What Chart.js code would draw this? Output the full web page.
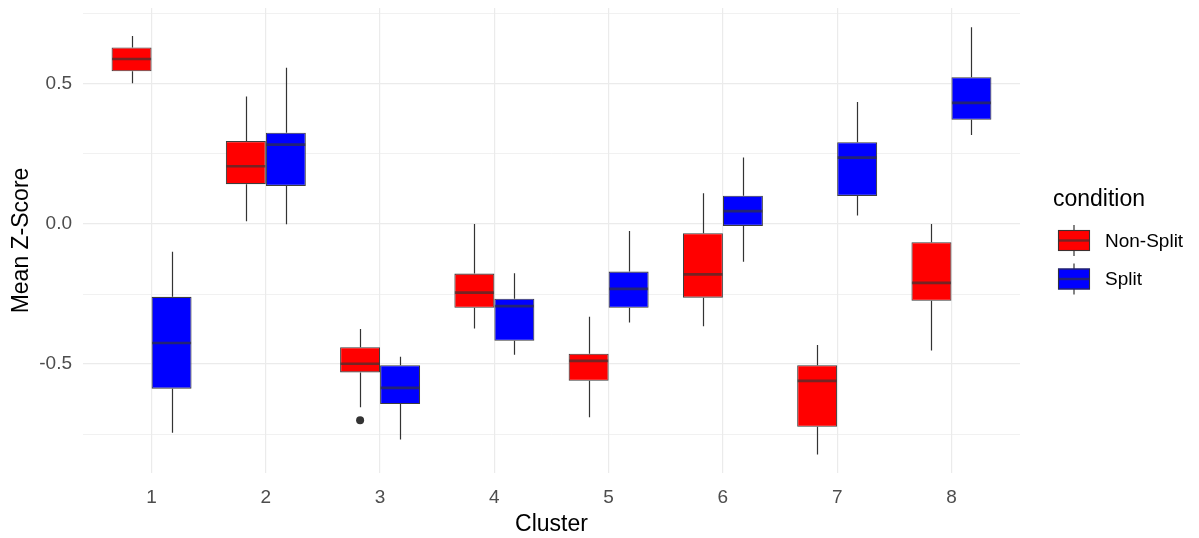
<!DOCTYPE html>
<html><head><meta charset="utf-8">
<script src="https://cdn.jsdelivr.net/npm/chart.js@4.4.1/dist/chart.umd.min.js"></script>
<style>html,body{margin:0;padding:0;background:#fff}#wrap{width:1199px;height:538px;position:relative}</style>
</head><body><div id="wrap"><canvas id="c" width="1199" height="538"></canvas></div>
<script>
// ---- data ----
const clusters = [1, 2, 3, 4, 5, 6, 7, 8];
const seriesNames = ['Non-Split', 'Split'];
const seriesColors = ['#ff0000', '#0000ff'];

const nonSplitMin    = [0.502, 0.010, -0.654, -0.373, -0.690, -0.365, -0.823, -0.452];
const nonSplitQ1     = [0.545, 0.142, -0.530, -0.299, -0.560, -0.263, -0.724, -0.274];
const nonSplitMedian = [0.589, 0.206, -0.499, -0.245, -0.489, -0.180, -0.560, -0.210];
const nonSplitQ3     = [0.630, 0.296, -0.440, -0.177, -0.463, -0.033, -0.504, -0.065];
const nonSplitMax    = [0.671, 0.455, -0.375, 0.000, -0.331, 0.110, -0.432, 0.000];

const splitMin    = [-0.745, -0.001, -0.769, -0.467, -0.352, -0.135, 0.030, 0.318];
const splitQ1     = [-0.588, 0.136, -0.643, -0.417, -0.299, -0.007, 0.100, 0.372];
const splitMedian = [-0.425, 0.283, -0.585, -0.293, -0.232, 0.046, 0.237, 0.432];
const splitQ3     = [-0.260, 0.326, -0.504, -0.267, -0.170, 0.101, 0.292, 0.524];
const splitMax    = [-0.099, 0.558, -0.474, -0.176, -0.025, 0.237, 0.435, 0.702];

const nonSplitOutlierCluster = [3];
const nonSplitOutlierValue = [-0.701];

const yMajorTicks = [-0.5, 0.0, 0.5];
const yMajorLabels = ['-0.5', '0.0', '0.5'];
const yMinorTicks = [-0.75, -0.25, 0.25, 0.75];
const xTickLabels = ['1', '2', '3', '4', '5', '6', '7', '8'];

// ---- build chart ----
const categoryPct = 0.7;
const dodge = categoryPct / 4;
const stats = [
  {min: nonSplitMin, med: nonSplitMedian, max: nonSplitMax},
  {min: splitMin, med: splitMedian, max: splitMax}
];
const boxData = (q1, q3) => clusters.map((c, i) => ({x: c, y: [q1[i], q3[i]]}));

const grey = '#333333';
const boxBorder = 'rgba(51,51,51,0.95)';
const medianColor = 'rgba(51,51,51,0.68)';
const tickFont = {family: '"Liberation Sans", Arial, sans-serif', size: 19};
const titleFont = {family: '"Liberation Sans", Arial, sans-serif', size: 23};

const boxParts = {
  id: 'boxParts',
  beforeDatasetsDraw(chart) {
    const ctx = chart.ctx, y = chart.scales.y;
    ctx.save();
    ctx.strokeStyle = grey; ctx.lineWidth = 1.2;
    stats.forEach((s, d) => {
      const meta = chart.getDatasetMeta(d);
      meta.data.forEach((el, i) => {
        const x = Math.round(el.x) + 0.5;
        const top = Math.min(el.y, el.base), bot = Math.max(el.y, el.base);
        ctx.beginPath();
        ctx.moveTo(x, y.getPixelForValue(s.max[i])); ctx.lineTo(x, top);
        ctx.moveTo(x, bot); ctx.lineTo(x, y.getPixelForValue(s.min[i]));
        ctx.stroke();
      });
    });
    ctx.restore();
  },
  afterDatasetsDraw(chart) {
    const ctx = chart.ctx, y = chart.scales.y;
    ctx.save();
    ctx.strokeStyle = medianColor; ctx.lineWidth = 2.7;
    stats.forEach((s, d) => {
      const meta = chart.getDatasetMeta(d);
      meta.data.forEach((el, i) => {
        const py = y.getPixelForValue(s.med[i]);
        ctx.beginPath();
        ctx.moveTo(el.x - el.width / 2 + 0.5, py); ctx.lineTo(el.x + el.width / 2 - 0.5, py);
        ctx.stroke();
      });
    });
    ctx.restore();
  },
  afterDraw(chart) {
    // legend
    const ctx = chart.ctx;
    ctx.save();
    ctx.fillStyle = '#000';
    ctx.font = `${titleFont.size}px ${titleFont.family}`;
    ctx.textBaseline = 'middle'; ctx.textAlign = 'left';
    ctx.fillText('condition', 1053, 200);
    const rows = [240.5, 279];
    seriesNames.forEach((name, k) => {
      const cy = rows[k];
      const x0 = 1058, w = 32, h = 21;
      ctx.strokeStyle = grey; ctx.lineWidth = 1.2;
      ctx.beginPath(); ctx.moveTo(x0 + w / 2, cy - 15.5); ctx.lineTo(x0 + w / 2, cy + 15.5); ctx.stroke();
      ctx.fillStyle = seriesColors[k];
      ctx.fillRect(x0, cy - h / 2, w, h);
      ctx.strokeStyle = boxBorder; ctx.lineWidth = 1.1;
      ctx.strokeRect(x0 + 0.5, cy - h / 2 + 0.5, w - 1, h - 1);
      ctx.strokeStyle = medianColor; ctx.lineWidth = 2.4;
      ctx.beginPath(); ctx.moveTo(x0 + 1, cy); ctx.lineTo(x0 + w - 1, cy); ctx.stroke();
      ctx.fillStyle = '#000';
      ctx.font = `${tickFont.size}px ${tickFont.family}`;
      ctx.fillText(name, 1105, cy + 1);
    });
    ctx.restore();
  }
};

new Chart(document.getElementById('c'), {
  type: 'bar',
  data: {
    datasets: [
      {label: seriesNames[0], data: boxData(nonSplitQ1, nonSplitQ3), backgroundColor: seriesColors[0],
       borderColor: boxBorder, borderWidth: 1.1, borderSkipped: false,
       categoryPercentage: categoryPct, barPercentage: 1.0, order: 2},
      {label: seriesNames[1], data: boxData(splitQ1, splitQ3), backgroundColor: seriesColors[1],
       borderColor: boxBorder, borderWidth: 1.1, borderSkipped: false,
       categoryPercentage: categoryPct, barPercentage: 1.0, order: 2},
      {type: 'scatter', label: 'outliers', order: 1,
       data: nonSplitOutlierCluster.map((c, i) => ({x: c - dodge, y: nonSplitOutlierValue[i]})),
       backgroundColor: grey, borderWidth: 0, pointRadius: 4}
    ]
  },
  options: {
    responsive: false,
    animation: false,
    devicePixelRatio: 1,
    layout: {padding: {left: 8, top: 8, right: 179, bottom: 0}},
    plugins: {legend: {display: false}, tooltip: {enabled: false}},
    scales: {
      x: {
        type: 'linear', min: 0.4, max: 8.6, offset: false,
        afterBuildTicks: s => { s.ticks = clusters.map(v => ({value: v})); },
        afterFit: s => { s.height = 65; s.paddingLeft = 0; s.paddingRight = 0; },
        ticks: {callback: (v) => xTickLabels[clusters.indexOf(v)] ?? '', color: '#4d4d4d', font: tickFont, padding: 13, maxRotation: 0, autoSkip: false},
        grid: {color: '#ebebeb', lineWidth: 1.2, drawTicks: false, offset: false},
        border: {display: false},
        title: {display: true, text: 'Cluster', color: '#000', font: titleFont, padding: 0}
      },
      y: {
        min: -0.889, max: 0.771,
        afterBuildTicks: s => {
          s.ticks = [...yMajorTicks, ...yMinorTicks].sort((a, b) => a - b).map(v => ({value: v}));
        },
        afterFit: s => { s.width = 75; s.paddingTop = 0; s.paddingBottom = 0; },
        ticks: {
          callback: (v) => { const k = yMajorTicks.indexOf(v); return k >= 0 ? yMajorLabels[k] : ''; },
          color: '#4d4d4d', font: tickFont, padding: 11
        },
        grid: {
          color: '#ebebeb', drawTicks: false,
          lineWidth: c => (yMajorTicks.includes(c.tick && c.tick.value) ? 1.2 : 0.7)
        },
        border: {display: false},
        title: {display: true, text: 'Mean Z-Score', color: '#000', font: titleFont, padding: 0}
      }
    }
  },
  plugins: [boxParts]
});
</script>
</body></html>
